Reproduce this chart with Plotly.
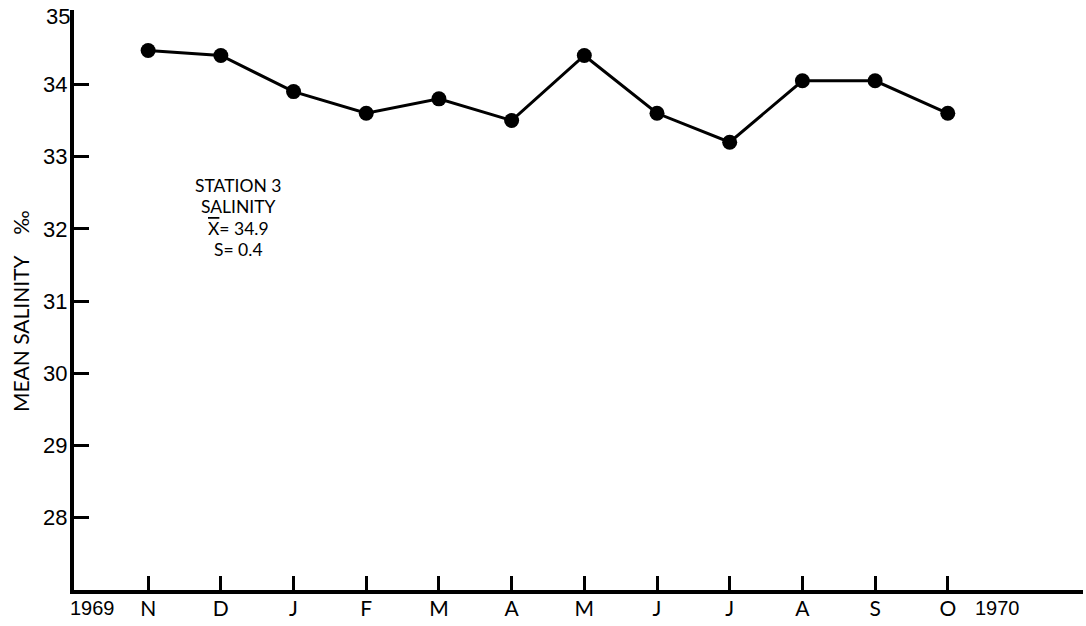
import plotly.graph_objects as go

# Monthly mean salinity, Station 3, Nov 1969 - Oct 1970
months = ["N", "D", "J", "F", "M", "A", "M", "J", "J", "A", "S", "O"]
salinity = [34.47, 34.4, 33.9, 33.6, 33.8, 33.5, 34.4, 33.6, 33.2, 34.05, 34.05, 33.6]
y_ticks = [28, 29, 30, 31, 32, 33, 34]

x_pos = list(range(len(months)))
NUM_FONT = "Liberation Sans, Arial, sans-serif"
TEXT_FONT = "Lato, Open Sans, sans-serif"

fig = go.Figure()
fig.add_trace(go.Scatter(
    x=x_pos, y=salinity, mode="lines+markers",
    line=dict(color="black", width=3),
    marker=dict(color="black", size=15),
    showlegend=False, hoverinfo="skip",
))

fig.update_xaxes(
    range=[-1.02, 12.86],
    tickmode="array", tickvals=x_pos, ticktext=months,
    ticks="inside", ticklen=14, tickwidth=2.5, tickcolor="black",
    showline=True, linecolor="black", linewidth=4,
    showgrid=False, zeroline=False,
    tickfont=dict(family=TEXT_FONT, size=21, color="black"),
    ticklabelstandoff=-3,
)
fig.update_yaxes(
    range=[27.0, 35.03],
    tickmode="array", tickvals=y_ticks, ticktext=[str(v) for v in y_ticks],
    ticks="inside", ticklen=15, tickwidth=2.5, tickcolor="black",
    showline=True, linecolor="black", linewidth=4,
    showgrid=False, zeroline=False,
    tickfont=dict(family=NUM_FONT, size=22, color="black"),
    ticklabelstandoff=-2,
)

annotations = [
    dict(x=-1.02, y=35.0, xref="x", yref="y", text="35", showarrow=False,
         xanchor="right", xshift=-2, yshift=-4,
         font=dict(family=NUM_FONT, size=22, color="black")),
    dict(x=-0.76, y=27.0, xref="x", yref="y", text="1969", showarrow=False,
         yanchor="top", yshift=-5, font=dict(family=NUM_FONT, size=20, color="black")),
    dict(x=11.69, y=27.0, xref="x", yref="y", text="1970", showarrow=False,
         yanchor="top", yshift=-5, font=dict(family=NUM_FONT, size=20, color="black")),
    dict(x=-0.0535, y=0.481, xref="paper", yref="paper", text="MEAN SALINITY    ‰",
         xanchor="center", yanchor="middle",
         showarrow=False, textangle=-90, font=dict(family=TEXT_FONT, size=21, color="black")),
]
stat_lines = ["STATION 3", "SALINITY",
              "<span style='text-decoration:overline'>X</span>= 34.9", "S= 0.4"]
for i, t in enumerate(stat_lines):
    annotations.append(dict(
        x=1.24, y=32.6 - i * 0.295, xref="x", yref="y", text=t, showarrow=False,
        font=dict(family=TEXT_FONT, size=17.5, color="black"),
    ))

fig.update_layout(
    width=1086, height=626,
    margin=dict(l=74, r=3, t=10, b=36),
    paper_bgcolor="white", plot_bgcolor="white",
    annotations=annotations,
)

fig.write_html("out.html")
